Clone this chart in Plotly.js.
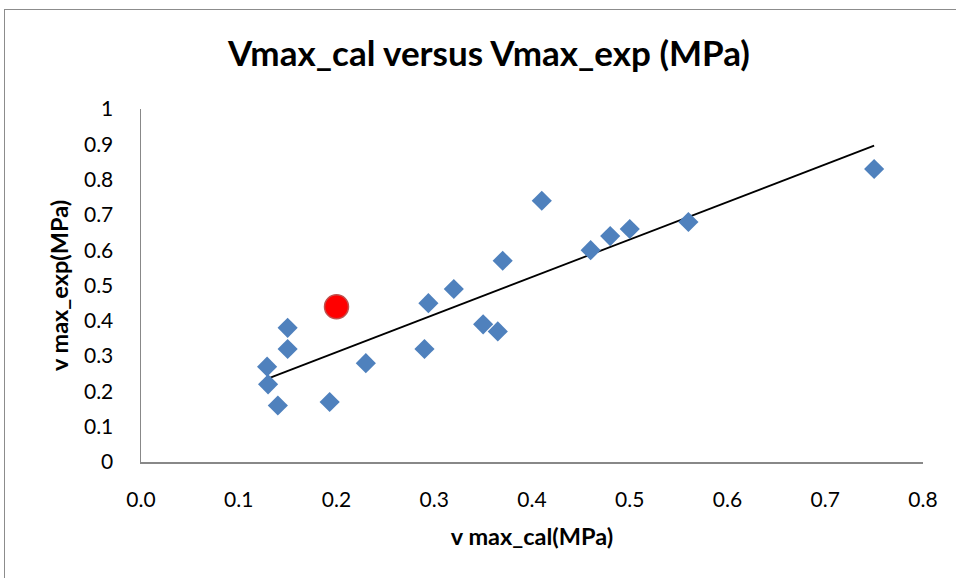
<!DOCTYPE html>
<html>
<head>
<meta charset="utf-8">
<script src="https://cdn.plot.ly/plotly-3.0.1.min.js"></script>
<style>
  html, body { margin: 0; padding: 0; overflow: hidden; background: #fff; }
  #chart { width: 956px; height: 578px; }
  #frame { position: absolute; left: 4px; top: 9px; width: 1200px; height: 1200px;
           border-top: 1.5px solid #8c8c8c; border-left: 1.5px solid #8c8c8c;
           pointer-events: none; }
</style>
</head>
<body>
<div id="chart"></div>
<div id="frame"></div>
<script>
// Measured data (v max_cal, v max_exp), MPa
const vCal = [0.129, 0.13, 0.14, 0.15, 0.15, 0.193, 0.23, 0.29, 0.294, 0.32, 0.35, 0.365, 0.37, 0.41, 0.46, 0.48, 0.50, 0.56, 0.75];
const vExp = [0.27, 0.22, 0.16, 0.38, 0.32, 0.17, 0.28, 0.32, 0.45, 0.49, 0.39, 0.37, 0.57, 0.74, 0.60, 0.64, 0.66, 0.68, 0.83];
// Highlighted point
const hlCal = [0.20];
const hlExp = [0.44];
const xTicks = [0, 0.1, 0.2, 0.3, 0.4, 0.5, 0.6, 0.7, 0.8];
const yTicks = [0, 0.1, 0.2, 0.3, 0.4, 0.5, 0.6, 0.7, 0.8, 0.9, 1];

// Linear least-squares trendline over the blue series
const n = vCal.length;
const mx = vCal.reduce((a, b) => a + b, 0) / n;
const my = vExp.reduce((a, b) => a + b, 0) / n;
let sxy = 0, sxx = 0;
for (let i = 0; i < n; i++) { sxy += (vCal[i] - mx) * (vExp[i] - my); sxx += (vCal[i] - mx) ** 2; }
const slope = sxy / sxx, icpt = my - slope * mx;
const xMin = Math.min(...vCal), xMax = Math.max(...vCal);
const trendX = [xMin, xMax];
const trendY = trendX.map(x => icpt + slope * x);

const FONT = 'Lato, "Open Sans", sans-serif';
const traces = [
  { x: trendX, y: trendY, type: 'scatter', mode: 'lines',
    line: { color: '#000000', width: 1.8 }, showlegend: false, hoverinfo: 'skip' },
  { x: vCal, y: vExp, type: 'scatter', mode: 'markers',
    marker: { symbol: 'diamond', size: 15.5, color: '#4F81BD', line: { width: 0 } }, showlegend: false },
  { x: hlCal, y: hlExp, type: 'scatter', mode: 'markers',
    marker: { symbol: 'circle', size: 24, color: '#FF0000', line: { color: '#C0504D', width: 1.5 } }, showlegend: false }
];

const layout = {
  width: 956, height: 578,
  margin: { l: 141, r: 33.4, t: 109, b: 115.5 },
  paper_bgcolor: '#ffffff', plot_bgcolor: '#ffffff',
  font: { family: FONT, color: '#000000' },
  title: { text: '<b>Vmax_cal versus Vmax_exp (MPa)</b>', xref: 'container', x: 0.5115, xanchor: 'center',
           yref: 'container', y: 0.907, yanchor: 'middle', font: { family: FONT, size: 35, color: '#000' } },
  xaxis: {
    range: [0, 0.8], tickvals: xTicks, ticktext: xTicks.map(v => v.toFixed(1)),
    showgrid: false, zeroline: false, showline: true, linecolor: '#888888', linewidth: 1.5,
    ticks: '', ticklabelstandoff: 18, tickfont: { size: 21, family: FONT },
    title: { text: '<b>v max_cal(MPa)</b>', font: { size: 23.5, family: FONT }, standoff: 19 }
  },
  yaxis: {
    range: [0, 1], tickvals: yTicks, ticktext: yTicks.map(v => String(v)),
    showgrid: false, zeroline: false, showline: true, linecolor: '#888888', linewidth: 1.5,
    ticks: '', ticklabelstandoff: 22, tickfont: { size: 21, family: FONT },
    title: { text: '<b>v max_exp(MPa)</b>', font: { size: 23.5, family: FONT }, standoff: 8 }
  }
};

Plotly.newPlot('chart', traces, layout, { displayModeBar: false, staticPlot: true });
</script>
</body>
</html>
